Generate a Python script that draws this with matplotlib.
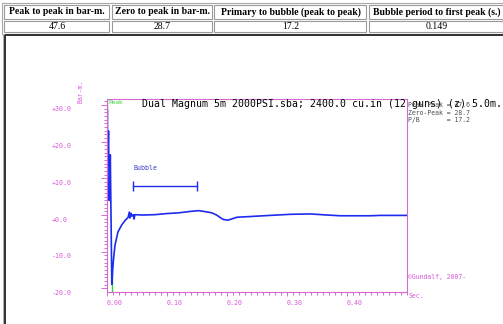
import numpy as np
import matplotlib
matplotlib.use("Agg")
import matplotlib.pyplot as plt
import matplotlib.transforms as mtransforms
from matplotlib.patches import Rectangle

# table on top of the page
table_headers = ["Peak to peak in bar-m.", "Zero to peak in bar-m.",
                 "Primary to bubble (peak to peak)", "Bubble period to first peak (s.)"]
table_values = ["47.6", "28.7", "17.2", "0.149"]

# signature (time in s, pressure in bar-m)
sig_time = [0.0, 0.0005, 0.0010, 0.0016, 0.0030, 0.0042, 0.0060, 0.0085, 0.0100,
            0.0110, 0.0138, 0.0188, 0.0250, 0.0310, 0.0355, 0.0377, 0.0388, 0.0405,
            0.0420, 0.0443, 0.0455, 0.0470, 0.0600, 0.0800, 0.1000, 0.1200, 0.1400,
            0.1530, 0.1650, 0.1750, 0.1830, 0.1900, 0.1940, 0.2020, 0.2170, 0.2400,
            0.2720, 0.3060, 0.3390, 0.3670, 0.3890, 0.4390, 0.4550, 0.5000]
sig_value = [0.0, 5.0, 28.7, 14.0, 22.9, 4.0, 16.4, -18.9, -15.0,
             -12.7, -8.2, -4.6, -2.7, -1.4, -0.7, 0.8, -0.8, 0.5,
             -0.3, 0.1, -1.1, 0.1, 0.0, 0.1, 0.4, 0.6, 1.0,
             1.2, 0.9, 0.6, 0.0, -0.8, -1.2, -1.4, -0.6, -0.4,
             -0.1, 0.2, 0.3, 0.0, -0.2, -0.2, -0.1, -0.1]

peak_marker = (0.0, 26.5)
trough_marker = (0.0088, -16.4)
bubble_bar = (0.044, 0.151)
bubble_level = 7.9

y_ticks = [-20, -10, 0, 10, 20, 30]
y_labels = ["-20.0", "-10.0", "+0.0", "+10.0", "+20.0", "+30.0"]
x_ticks = [0.0, 0.1, 0.2, 0.3, 0.4]
x_labels = ["0.00", "0.10", "0.20", "0.30", "0.40"]

stats_lines = ["Peak-Peak = 47.6", "Zero-Peak = 28.7", "P/B       = 17.2"]
title = "Dual Magnum 5m 2000PSI.sba; 2400.0 cu.in (12 guns) (z) 5.0m."

PINK = "#d36bd3"
PINK_TXT = "#d858d8"
BLUE = "#1e2bf0"
GREEN = "#3ad23a"
MONO = "DejaVu Sans Mono"

W, H = 503, 324
fig = plt.figure(figsize=(W / 100, H / 100), dpi=100)

# background in pixel coordinates: html table and the frame below
bg = fig.add_axes([0, 0, 1, 1])
bg.set_xlim(0, W)
bg.set_ylim(H, 0)
bg.axis("off")

bg.add_patch(Rectangle((2.5, 2.5), 520, 31, fill=False, ec="#a8a8a8", lw=0.8))
col_x = [(4.5, 109.5), (112, 212.5), (214.5, 366.5), (369, 520)]
for (x0, x1), head, val in zip(col_x, table_headers, table_values):
    bg.add_patch(Rectangle((x0, 4.5), x1 - x0, 14.5, fill=False, ec="#9a9a9a", lw=0.8))
    bg.add_patch(Rectangle((x0, 21), x1 - x0, 11, fill=False, ec="#9a9a9a", lw=0.8))
    xc = (x0 + x1) / 2 if x1 < 500 else (x0 + 505) / 2
    bg.text(xc, 12, head, ha="center", va="center", fontsize=7.0,
            fontweight="bold", family="Liberation Serif")
    bg.text(xc, 26.8, val, ha="center", va="center", fontsize=7.0,
            family="Liberation Serif")

bg.add_patch(Rectangle((3.5, 33.5), 520, 300, fill=False, ec="#b0b0b0", lw=0.8))
bg.add_patch(Rectangle((5.5, 35), 520, 300, fill=False, ec="#303030", lw=1.4))

# the plot
ax = fig.add_axes([106.7 / W, 1 - 291.7 / H, 300.3 / W, 192.4 / H])
ax.set_facecolor("white")
ax.set_xlim(0, 0.5)
ax.set_ylim(-20.9, 31.55)
for sp in ax.spines.values():
    sp.set_color(PINK)
    sp.set_linewidth(0.8)

ax.vlines(peak_marker[0], peak_marker[1], 31.55, color=GREEN, lw=1.0)
ax.vlines(trough_marker[0], -20.9, trough_marker[1], color=GREEN, lw=1.0)
ax.plot(sig_time, sig_value, color=BLUE, lw=1.2)

# bubble period marker
ax.plot(bubble_bar, [bubble_level, bubble_level], color=BLUE, lw=1.0)
ax.vlines(bubble_bar, bubble_level - 1.4, bubble_level + 1.4, color=BLUE, lw=1.0)
ax.text(bubble_bar[0], bubble_level + 4.9, "Bubble", color="#3a3ad0",
        fontsize=4.8, family=MONO, ha="left", va="center")

ax.set_xticks(x_ticks)
ax.set_xticklabels(x_labels)
ax.set_xticks(np.arange(0, 0.5001, 0.01), minor=True)
ax.set_yticks(y_ticks)
ax.set_yticklabels(y_labels)
ax.set_yticks(np.arange(-20, 32, 1), minor=True)

ax.tick_params(axis="both", which="both", direction="out", color=PINK,
               labelcolor=PINK_TXT, labelsize=4.8, width=0.7)
ax.tick_params(axis="y", which="major", length=4.1, pad=35.3)
ax.tick_params(axis="y", which="minor", length=2.4)
ax.tick_params(axis="x", which="major", length=3.0, pad=3.0)
ax.tick_params(axis="x", which="minor", length=1.8)
shift_y = mtransforms.ScaledTranslation(0, -4 / 100, fig.dpi_scale_trans)
for lab in ax.get_yticklabels():
    lab.set_ha("left")
    lab.set_family(MONO)
    lab.set_transform(lab.get_transform() + shift_y)
for lab in ax.get_xticklabels():
    lab.set_ha("left")
    lab.set_family(MONO)

ax.text(0.1166, 0.9756, title, transform=ax.transAxes, fontsize=7.1,
        family=MONO, ha="left", va="center", clip_on=False)
ax.text(0.004, 0.983, "Peak", transform=ax.transAxes, color=GREEN,
        fontsize=4.4, ha="left", va="center")
for i, line in enumerate(stats_lines):
    ax.text(1.004, 0.970 - i * 0.039, line, transform=ax.transAxes,
            fontsize=4.7, family=MONO, color="#505050", ha="left", va="center")

ax.text(1.004, 0.078, "\u00a9Gundalf, 2007-", transform=ax.transAxes,
        fontsize=4.7, family=MONO, color=PINK_TXT, ha="left", va="center")
ax.text(1.004, -0.022, "Sec.", transform=ax.transAxes,
        fontsize=4.7, family=MONO, color=PINK_TXT, ha="left", va="center")
ax.text(-0.0856, 1.043, "Bar-m.", transform=ax.transAxes, rotation=90,
        fontsize=4.7, family=MONO, color=PINK_TXT, ha="center", va="center")

fig.savefig("out.png", dpi=100)
